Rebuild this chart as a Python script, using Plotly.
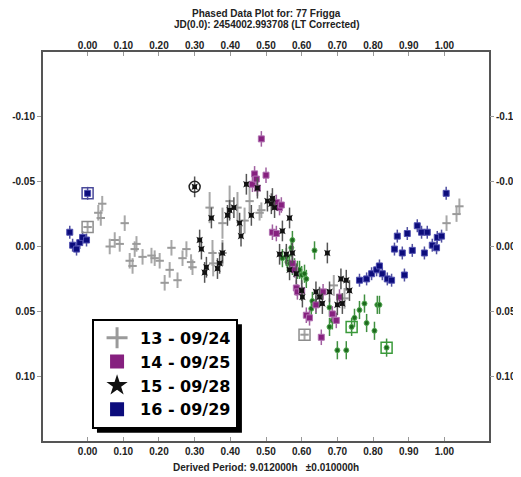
import plotly.graph_objects as go

# ---------------- data ----------------
s13_x = [0.030, 0.037, 0.041, 0.062, 0.076, 0.090, 0.104, 0.118, 0.126, 0.132, 0.137, 0.154,
         0.179, 0.188, 0.202, 0.216, 0.230, 0.235, 0.252, 0.266, 0.277, 0.290, 0.294,
         0.342, 0.350, 0.352, 0.378, 0.378, 0.398, 0.420, 0.440, 0.454, 0.482, 0.487,
         0.690, 0.720, 1.006, 1.034, 1.042, 0.000, 0.608]
s13_y = [-0.026, -0.022, -0.033, 0.000, -0.005, -0.002, -0.018, 0.011, 0.015, 0.002, -0.002, 0.008,
         0.007, 0.009, 0.011, 0.028, 0.018, 0.001, 0.026, 0.009, 0.002, 0.012, 0.016,
         -0.030, 0.005, 0.013, -0.018, 0.005, -0.035, -0.030, -0.020, -0.035, -0.026, -0.028,
         0.030, 0.040, -0.018, -0.025, -0.031, -0.015, 0.068]
s13_e = [0.006, 0.006, 0.006, 0.006, 0.006, 0.006, 0.006, 0.006, 0.006, 0.006, 0.006, 0.006,
         0.006, 0.006, 0.006, 0.006, 0.006, 0.006, 0.006, 0.006, 0.006, 0.006, 0.006,
         0.012, 0.010, 0.010, 0.012, 0.010, 0.012, 0.012, 0.010, 0.012, 0.006, 0.006,
         0.008, 0.008, 0.006, 0.006, 0.006, 0.004, 0.004]

s14_x = [0.462, 0.468, 0.473, 0.476, 0.487, 0.500, 0.518, 0.529, 0.529, 0.538, 0.543, 0.574,
         0.580, 0.585, 0.588, 0.600, 0.613, 0.622, 0.640, 0.655, 0.660, 0.686, 0.697, 0.706]
s14_y = [-0.048, -0.056, -0.052, -0.045, -0.083, -0.055, -0.011, -0.034, -0.010, -0.030, -0.032, 0.013,
         0.018, 0.032, 0.035, 0.034, 0.053, 0.055, 0.045, 0.070, 0.035, 0.052, 0.057, 0.039]

s15_x = [0.300, 0.314, 0.319, 0.328, 0.333, 0.347, 0.364, 0.370, 0.378, 0.392, 0.398, 0.410,
         0.426, 0.430, 0.445, 0.459, 0.476, 0.504, 0.515, 0.518, 0.524, 0.538, 0.546, 0.557,
         0.566, 0.566, 0.574, 0.585, 0.600, 0.602, 0.640, 0.650, 0.658, 0.672, 0.678, 0.700,
         0.710, 0.714, 0.725, 0.734]
s15_y = [-0.046, -0.005, 0.002, 0.020, 0.016, -0.022, 0.017, 0.013, 0.005, -0.024, -0.028, -0.030,
         -0.018, -0.008, -0.048, -0.024, -0.045, -0.035, -0.033, -0.037, -0.030, 0.006, -0.012, 0.006,
         -0.022, 0.018, 0.005, 0.021, 0.034, 0.039, 0.035, 0.039, 0.044, 0.005, 0.035, 0.045,
         0.025, 0.044, 0.026, 0.034]

s16_x = [-0.050, -0.042, -0.031, -0.022, -0.014, -0.003, 0.000, 0.762, 0.782, 0.796, 0.810, 0.818,
         0.826, 0.840, 0.852, 0.860, 0.868, 0.882, 0.888, 0.896, 0.910, 0.924, 0.936, 0.944,
         0.952, 0.966, 0.978, 0.980, 0.992, 1.005]
s16_y = [-0.011, -0.001, 0.002, -0.003, -0.007, -0.005, -0.041, 0.026, 0.025, 0.021, 0.018, 0.015,
         0.021, 0.025, 0.026, 0.002, -0.008, 0.005, 0.022, -0.010, 0.003, -0.016, -0.011, 0.005,
         -0.011, -0.001, 0.001, -0.007, -0.008, -0.041]

s17_x = [0.546, 0.557, 0.560, 0.566, 0.571, 0.574, 0.574, 0.580, 0.588, 0.594, 0.600, 0.608,
         0.613, 0.627, 0.630, 0.636, 0.640, 0.678, 0.678, 0.686, 0.700, 0.725, 0.740, 0.748,
         0.762, 0.776, 0.782, 0.804, 0.812, 0.818, 0.838]
s17_y = [0.009, 0.008, 0.012, 0.013, 0.001, -0.005, 0.015, 0.016, 0.018, 0.018, 0.022, 0.021,
         0.025, 0.048, 0.042, 0.003, 0.045, 0.047, 0.062, 0.057, 0.080, 0.080, 0.062, 0.055,
         0.049, 0.044, 0.059, 0.065, 0.045, 0.045, 0.078]

# highlighted (boxed / circled) points
mark_x = [0.000, 0.608, 0.000, 0.300, 0.740, 0.838]
mark_y = [-0.015, 0.068, -0.041, -0.046, 0.062, 0.078]
mark_c = ["#8c8c8c", "#8c8c8c", "#4a4a9a", "#222222", "#3a9a3a", "#3a9a3a"]
mark_s = ["square-open", "square-open", "square-open", "circle-open", "square-open", "square-open"]

legend_names = ["13 - 09/24", "14 - 09/25", "15 - 09/28", "16 - 09/29"]

x_ticks = [0.0, 0.1, 0.2, 0.3, 0.4, 0.5, 0.6, 0.7, 0.8, 0.9, 1.0]
x_ticktext = ["0.00", "0.10", "0.20", "0.30", "0.40", "0.50", "0.60", "0.70", "0.80", "0.90", "1.00"]
y_ticks = [-0.10, -0.05, 0.0, 0.05, 0.10]
y_ticktext = ["-0.10", "-0.05", "0.00", "0.05", "0.10"]

title1 = "Phased Data Plot for: 77 Frigga"
title2 = "JD(0.0): 2454002.993708 (LT Corrected)"
xlabel = "Derived Period: 9.012000h   \u00b10.010000h"

# ---------------- figure ----------------
GRAY = "#9a9a9a"
PURPLE = "#86207f"
BLACK = "#111111"
NAVY = "#0c0c7c"
GREEN = "#1d6a1d"
FONT = "Liberation Sans"

fig = go.Figure()

fig.add_trace(go.Scatter(
    x=s13_x, y=s13_y, mode="markers", showlegend=False, hoverinfo="skip",
    marker=dict(symbol="line-ew", size=6, line=dict(color=GRAY, width=2)),
    error_y=dict(type="data", array=s13_e, color="#a8a8a8", thickness=2, width=0)))

fig.add_trace(go.Scatter(
    x=s17_x, y=s17_y, mode="markers", showlegend=False, hoverinfo="skip",
    marker=dict(symbol="circle", size=5, color=GREEN, line=dict(color="#55aa55", width=1)),
    error_y=dict(type="constant", value=0.007, color="#3f8f3f", thickness=1.5, width=0)))

fig.add_trace(go.Scatter(
    x=s14_x, y=s14_y, mode="markers", showlegend=False, hoverinfo="skip",
    marker=dict(symbol="square", size=6, color=PURPLE, line=dict(color="#b070b0", width=1)),
    error_y=dict(type="constant", value=0.006, color="#a060a0", thickness=1.5, width=0)))

fig.add_trace(go.Scatter(
    x=s15_x, y=s15_y, mode="markers", showlegend=False, hoverinfo="skip",
    marker=dict(symbol="star-square", size=6, color=BLACK),
    error_y=dict(type="constant", value=0.008, color="#555555", thickness=1.5, width=0)))

fig.add_trace(go.Scatter(
    x=s16_x, y=s16_y, mode="markers", showlegend=False, hoverinfo="skip",
    marker=dict(symbol="square", size=6, color=NAVY, line=dict(color="#5050b0", width=1)),
    error_y=dict(type="constant", value=0.005, color="#5050a0", thickness=1.5, width=0)))

for mx, my, mc, ms in zip(mark_x, mark_y, mark_c, mark_s):
    fig.add_trace(go.Scatter(
        x=[mx], y=[my], mode="markers", showlegend=False, hoverinfo="skip",
        marker=dict(symbol=ms, size=11, color=mc, line=dict(color=mc, width=1.5))))

# legend-only entries
leg_styles = [
    dict(symbol="cross-thin", size=15, color=GRAY, line=dict(color=GRAY, width=3)),
    dict(symbol="square", size=14, color=PURPLE),
    dict(symbol="star", size=16, color=BLACK),
    dict(symbol="square", size=14, color=NAVY),
]
for name, st in zip(legend_names, leg_styles):
    fig.add_trace(go.Scatter(x=[None], y=[None], mode="markers", name=name, marker=st))

# helper trace for mirrored axes
fig.add_trace(go.Scatter(x=[None], y=[None], xaxis="x2", yaxis="y2",
                         showlegend=False, hoverinfo="skip"))

XR = [-0.125, 1.125]
YR = [0.15, -0.15]
axis_font = dict(family=FONT, size=10, color="#222222", weight="bold")
label_font = dict(family=FONT, size=10, color="#222222", weight="bold")

# the page adds an 8px body margin; the figure is sized so the plot frame lands
# at x 43..489, y 52..441 in the 521x477 window
fig.update_layout(
    width=513, height=469,
    margin=dict(l=35, r=32, t=44, b=36, autoexpand=False),
    paper_bgcolor="white", plot_bgcolor="white",
    font=dict(family=FONT, color="#222222"),
    xaxis=dict(range=XR, tickvals=x_ticks, ticktext=x_ticktext, ticks="inside", ticklen=4,
               tickcolor="#999999", showgrid=False, zeroline=False, showline=True,
               linecolor="#555555", linewidth=2, mirror=True, tickfont=axis_font,
               automargin=False),
    xaxis2=dict(range=XR, overlaying="x", side="top", anchor="y", tickvals=x_ticks,
                ticktext=x_ticktext, ticks="inside", ticklen=4, tickcolor="#999999",
                showgrid=False, zeroline=False, showline=False, tickfont=axis_font,
                automargin=False),
    yaxis=dict(range=YR, tickvals=y_ticks, ticktext=y_ticktext, ticks="outside", ticklen=4,
               tickcolor="#999999", showgrid=False, zeroline=False, showline=True,
               linecolor="#555555", linewidth=2, mirror=True, tickfont=axis_font,
               automargin=False),
    yaxis2=dict(range=YR, overlaying="y", side="right", anchor="x", tickvals=y_ticks,
                ticktext=y_ticktext, ticks="outside", ticklen=4, tickcolor="#999999",
                showgrid=False, zeroline=False, showline=False, tickfont=axis_font,
                automargin=False),
    legend=dict(x=0.11, y=0.314, xanchor="left", yanchor="top", bgcolor="white",
                bordercolor="black", borderwidth=2, itemsizing="trace",
                font=dict(family="DejaVu Sans", size=16, color="black", weight="bold"),
                tracegroupgap=0, itemwidth=36),
    shapes=[dict(type="rect", xref="paper", yref="paper", x0=0.121, x1=0.446,
                 y0=0.021, y1=0.30, fillcolor="black", line=dict(width=0), layer="above")],
    annotations=[
        dict(text=title1, xref="paper", yref="paper", x=0.5, y=1.099, yanchor="middle",
             showarrow=False, font=label_font),
        dict(text=title2, xref="paper", yref="paper", x=0.5, y=1.071, yanchor="middle",
             showarrow=False, font=label_font),
        dict(text=xlabel, xref="paper", yref="paper", x=0.5, y=-0.069, yanchor="middle",
             showarrow=False, font=label_font),
    ],
)

fig.write_html("out.html")
